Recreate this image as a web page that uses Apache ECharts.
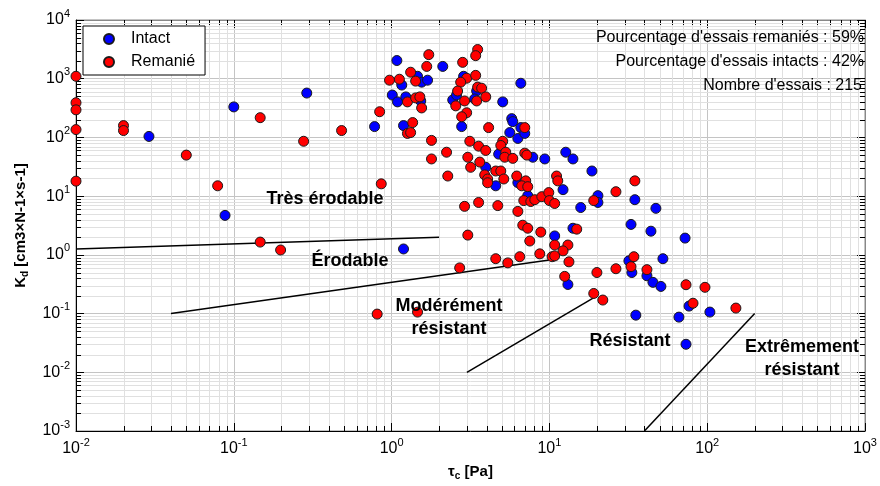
<!DOCTYPE html>
<html><head><meta charset="utf-8">
<script src="https://cdn.jsdelivr.net/npm/echarts@6/dist/echarts.min.js"></script>
<style>html,body{margin:0;padding:0;background:#fff}#c{width:880px;height:486px}</style>
</head><body><div id="c"></div>
<script>
// ---- data: [tau_c (Pa), Kd (cm3/N/s)] ----
const intact = [
[0.029,104],[0.088,4.7],[0.1,331],[0.29,570],[0.78,153],[1.08,2040],[1.16,780],[1.01,527],[1.09,403],[1.23,490],
[1.19,159],[1.46,1100],[1.55,873],[1.69,944],[1.53,418],[2.11,1620],[2.44,435],[2.58,527],[2.86,1100],[2.78,153],
[3.46,617],[3.36,452],[3.95,31],[4.57,15],[4.77,52],[5.06,403],[5.77,209],[5.86,186],[5.61,121],[6.31,96],
[6.59,837],[6.59,147],[6.98,117],[7.85,46],[9.35,43],[6.31,17],[7.29,10.2],[12.7,56],[14.1,43],[12.2,12.9],
[15.8,6.4],[10.8,2.1],[14.1,2.84],[13.1,0.313],[1.19,1.26],[18.6,26.8],[20.3,10.2],[20.3,7.8],[34.8,8.7],[47.3,6.2],
[32.9,3.3],[44,2.53],[72.4,1.93],[31.9,0.79],[33.3,0.5],[52.4,0.86],[41.5,0.44],[45.3,0.34],[50.9,0.29],[35.3,0.094],
[66.2,0.087],[73.4,0.03],[76.7,0.134],[104,0.106]
];
const remanie = [
[0.01,1100],[0.01,390],[0.01,295],[0.01,136],[0.01,18],[0.02,159],[0.02,131],[0.05,50],[0.079,15],[0.147,217],
[0.147,1.65],[0.198,1.21],[0.277,86],[0.482,131],[0.84,274],[0.86,16.2],[0.97,944],[1.12,980],[1.26,403],[1.36,179],
[1.26,117],[1.32,121],[1.32,1290],[1.42,910],[1.67,1620],[1.72,2570],[1.42,471],[1.51,490],[1.55,318],[1.79,89],
[1.79,43],[2.23,56],[2.27,22],[2.82,1900],[2.99,1020],[2.74,873],[2.62,617],[2.9,418],[2.55,345],[2.99,263],
[2.78,225],[3.13,86],[3.04,46],[3.17,31],[2.9,6.7],[3.04,2.17],[3.41,1140],[3.51,3140],[3.41,2470],[3.51,720],
[3.72,690],[3.46,418],[3.95,490],[4.12,147],[3.56,71],[3.95,60],[3.62,38],[3.89,23],[4.06,19.6],[4.06,16.9],
[4.57,26.8],[4.92,26.8],[5.14,19.6],[5.06,86],[4.92,73],[5.29,56],[5.21,46],[5.86,44],[6.98,147],[6.98,54],
[7.19,50],[6.21,22],[7.08,18.2],[6.68,15],[7.29,14.5],[3.56,7.8],[4.71,6.9],[6.88,8.4],[7.62,8.1],[8.08,8.7],
[8.95,9.8],[9.91,11.5],[10,8.4],[10.8,7.5],[6.31,5.5],[6.78,3.2],[7.29,2.84],[8.82,2.44],[7.51,1.72],[11.1,22],
[11.3,18.2],[10.8,1.47],[13.1,1.47],[12.2,1.17],[14.9,2.74],[4.57,0.86],[5.45,0.73],[6.49,0.93],[8.69,1.04],[10.4,0.93],
[10.8,0.96],[13.3,0.76],[12.5,0.43],[2.7,0.6],[0.81,0.098],[1.46,0.106],[19.1,8.4],[20,0.5],[19.1,0.22],[21.8,0.17],
[34.8,18.2],[26.4,11.9],[34.3,0.93],[32.9,0.63],[41.5,0.56],[26.4,0.58],[73.4,0.31],[96.8,0.28],[81.3,0.15],[152,0.124]
];
// class boundary segments
const lineTresErodable = [[0.01,1.26],[2,2]];
const lineErodable = [[0.04,0.1],[10,0.82]];
const lineModere = [[3,0.01],[20,0.2]];
const lineResistant = [[40,0.001],[200,0.1]];
const xRange = [0.01, 1000];
const yRange = [0.001, 10000];
const seriesNames = ['Intact', 'Remanié'];
const infoTexts = ["Pourcentage d'essais remaniés : 59%", "Pourcentage d'essais intacts : 42%", "Nombre d'essais : 215"];

// minor tick values (2..9 x 10^k)
function minors(lo, hi){ const out=[]; for(let e=Math.round(Math.log10(lo)); e<Math.round(Math.log10(hi)); e++){ for(let m=2;m<=9;m++){ out.push(m*Math.pow(10,e)); } } return out; }
const minorData = minors(xRange[0], xRange[1]).map(v=>[v,1,0]).concat(minors(yRange[0], yRange[1]).map(v=>[1,v,1]));

const F = '"Liberation Sans", Arial, sans-serif';
function powLabel(v){ const e = Math.round(Math.log10(v)); return '{b|10}{s|' + e + '}'; }
const labelRich = { b:{fontSize:16, fontFamily:F, color:'#000'}, s:{fontSize:11, fontFamily:F, color:'#000', padding:[0,0,13,0]} };

function renderMinor(params, api){
  const cs = params.coordSys;
  const kind = api.value(2);
  const ch = [];
  if (kind === 0) {
    const p = api.coord([api.value(0), 1]);
    const x = Math.round(p[0]) + 0.5;
    ch.push({type:'line', shape:{x1:x,y1:cs.y,x2:x,y2:cs.y+cs.height}, style:{stroke:'#e0e0e0', lineWidth:1}});
    ch.push({type:'line', shape:{x1:x,y1:cs.y+cs.height,x2:x,y2:cs.y+cs.height-5}, style:{stroke:'#000', lineWidth:1}});
    ch.push({type:'line', shape:{x1:x,y1:cs.y,x2:x,y2:cs.y+5}, style:{stroke:'#000', lineWidth:1}});
  } else {
    const p = api.coord([1, api.value(1)]);
    const y = Math.round(p[1]) + 0.5;
    ch.push({type:'line', shape:{x1:cs.x,y1:y,x2:cs.x+cs.width,y2:y}, style:{stroke:'#e0e0e0', lineWidth:1}});
    ch.push({type:'line', shape:{x1:cs.x,y1:y,x2:cs.x+5,y2:y}, style:{stroke:'#000', lineWidth:1}});
    ch.push({type:'line', shape:{x1:cs.x+cs.width,y1:y,x2:cs.x+cs.width-5,y2:y}, style:{stroke:'#000', lineWidth:1}});
  }
  return {type:'group', children:ch};
}

function boundary(d){ return {type:'line', data:d, symbol:'none', silent:true, lineStyle:{color:'#000', width:1.5}, z:3}; }
function scatter(name, d, color){ return {type:'scatter', name:name, data:d, symbol:'circle', symbolSize:10, itemStyle:{color:color, borderColor:'#1a1a1a', borderWidth:1, opacity:1}, z:5}; }

const regionLabel = (txt, x, y) => ({type:'text', x:x, y:y, z:10, style:{text:txt, fill:'#000', font:'bold 18px ' + F, align:'center', verticalAlign:'middle', lineHeight:23}});

const chart = echarts.init(document.getElementById('c'), null, {renderer:'canvas'});
chart.setOption({
  animation:false,
  backgroundColor:'#fff',
  grid:{left:76, right:15, top:20, bottom:50, show:true, borderColor:'#888', borderWidth:1},
  legend:{
    data:[{name:seriesNames[0], icon:'circle'},{name:seriesNames[1], icon:'circle'}],
    orient:'vertical', left:83, top:26, padding:[5,10,5,20], itemWidth:10, itemHeight:10, itemGap:7,
    borderColor:'#000', borderWidth:1, backgroundColor:'#fff',
    textStyle:{fontSize:16, fontFamily:F, color:'#000', lineHeight:16, padding:[0,0,0,12]}
  },
  xAxis:[
    {type:'log', logBase:10, min:xRange[0], max:xRange[1], splitNumber:5, position:'bottom',
     axisLine:{onZero:false, lineStyle:{color:'#000', width:1}},
     axisTick:{inside:true, length:8, lineStyle:{color:'#000'}},
     axisLabel:{formatter:powLabel, rich:labelRich, margin:6},
     splitLine:{show:true, lineStyle:{color:'#c4c4c4', width:1}},
     name:'{t|τ}{c|c}{t| [Pa]}', nameLocation:'middle', nameGap:31,
     nameTextStyle:{rich:{t:{fontSize:15, fontWeight:'bold', fontFamily:F, color:'#000'}, c:{fontSize:10, fontWeight:'bold', fontFamily:F, color:'#000', padding:[9,0,0,0]}}}
    },
    {type:'log', logBase:10, min:xRange[0], max:xRange[1], splitNumber:5, position:'top',
     axisLine:{onZero:false, lineStyle:{color:'#888', width:1}},
     axisTick:{inside:true, length:8, lineStyle:{color:'#000'}},
     axisLabel:{show:false}, splitLine:{show:false}}
  ],
  yAxis:[
    {type:'log', logBase:10, min:yRange[0], max:yRange[1], splitNumber:7, position:'left',
     axisLine:{onZero:false, lineStyle:{color:'#000', width:1}},
     axisTick:{inside:true, length:8, lineStyle:{color:'#000'}},
     axisLabel:{formatter:powLabel, rich:labelRich, margin:6},
     splitLine:{show:true, lineStyle:{color:'#c4c4c4', width:1}},
     name:'{t|K}{d|d}{t| [cm3×N-1×s-1]}', nameLocation:'middle', nameGap:46,
     nameTextStyle:{rich:{t:{fontSize:15, fontWeight:'bold', fontFamily:F, color:'#000'}, d:{fontSize:10, fontWeight:'bold', fontFamily:F, color:'#000', padding:[9,0,0,0]}}}
    },
    {type:'log', logBase:10, min:yRange[0], max:yRange[1], splitNumber:7, position:'right',
     axisLine:{onZero:false, lineStyle:{color:'#888', width:1}},
     axisTick:{inside:true, length:8, lineStyle:{color:'#000'}},
     axisLabel:{show:false}, splitLine:{show:false}}
  ],
  series:[
    {type:'custom', name:'minor', data:minorData, renderItem:renderMinor, encode:{x:0, y:1}, silent:true, z:1},
    boundary(lineTresErodable), boundary(lineErodable), boundary(lineModere), boundary(lineResistant),
    scatter(seriesNames[0], intact, '#0000ff'),
    scatter(seriesNames[1], remanie, '#ff0000')
  ],
  graphic:[
    {type:'text', x:864, y:38, z:10, style:{text:infoTexts[0], fill:'#000', font:'16px ' + F, align:'right', verticalAlign:'middle'}},
    {type:'text', x:864, y:62, z:10, style:{text:infoTexts[1], fill:'#000', font:'16px ' + F, align:'right', verticalAlign:'middle'}},
    {type:'text', x:862, y:86, z:10, style:{text:infoTexts[2], fill:'#000', font:'16px ' + F, align:'right', verticalAlign:'middle'}},
    regionLabel('Très érodable', 325, 199),
    regionLabel('Érodable', 350, 261),
    regionLabel('Modérément\nrésistant', 449, 318),
    regionLabel('Résistant', 630, 341),
    regionLabel('Extrêmement\nrésistant', 802, 359)
  ]
});
</script></body></html>
